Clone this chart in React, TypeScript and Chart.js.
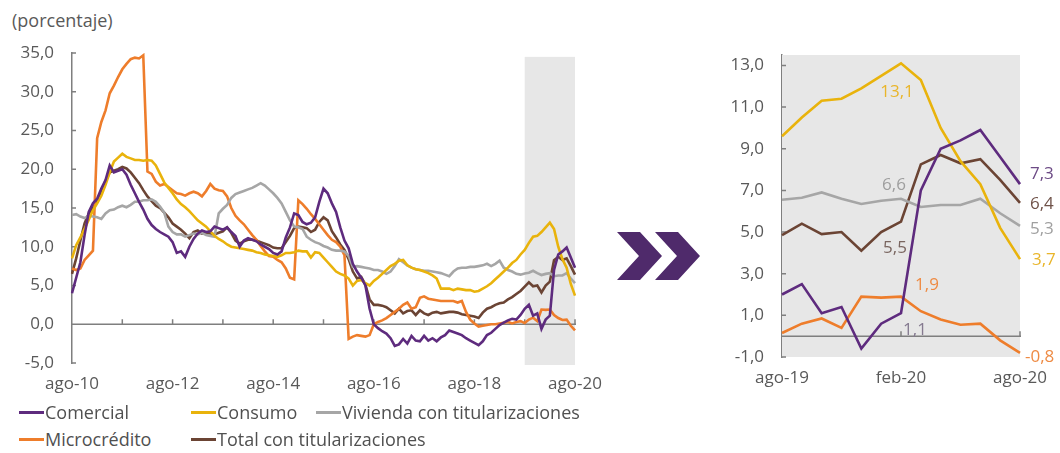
import React, { useEffect, useRef } from 'react';
import { Chart, registerables } from 'chart.js';

Chart.register(...registerables);

// ---------- labels ----------
const MONTH_ABBR = ['ene', 'feb', 'mar', 'abr', 'may', 'jun', 'jul', 'ago', 'sep', 'oct', 'nov', 'dic'];
const FIRST_MONTH = 7; // ago
const FIRST_YEAR = 10; // 2010
const N_MONTHS = 121; // ago-10 .. ago-20
const monthLabels: string[] = Array.from({ length: N_MONTHS }, (_, i) => {
  const k = FIRST_MONTH + i;
  return `${MONTH_ABBR[k % 12]}-${FIRST_YEAR + Math.floor(k / 12)}`;
});

// ---------- series (annual growth, %) ----------
const comercial = [
  4.0, 6.0, 8.0, 11.5, 14.5, 15.6, 16.2, 17.5, 18.6, 20.5,
  19.6, 19.8, 20.0, 19.3, 18.0, 16.9, 15.8, 14.8, 13.6, 12.8,
  12.3, 11.9, 11.6, 11.3, 10.6, 9.2, 9.4, 8.7, 10.0, 11.0,
  11.7, 12.1, 11.9, 12.0, 12.6, 12.4, 12.2, 12.5, 11.9, 11.4,
  10.0, 10.8, 11.1, 10.9, 10.7, 10.3, 10.0, 9.7, 9.2, 9.0,
  9.4, 11.2, 12.5, 14.3, 14.1, 13.2, 12.9, 13.1, 13.8, 15.8,
  17.5, 16.9, 15.6, 14.5, 12.5, 10.8, 9.8, 7.8, 6.8, 6.0,
  5.0, 2.0, 0.0, -0.5, -0.9, -1.2, -1.8, -2.8, -2.6, -1.9,
  -2.5, -1.5, -2.1, -2.2, -1.5, -2.1, -1.8, -2.2, -1.7, -1.4,
  -0.8, -1.0, -1.2, -1.4, -1.8, -2.1, -2.4, -2.7, -2.2, -1.4,
  -1.1, -0.6, -0.1, 0.2, 0.5, 0.7, 0.6, 1.2, 2.0, 2.5,
  1.1, 1.4, -0.6, 0.6, 1.1, 7.0, 9.0, 9.4, 9.9, 8.6, 7.3,
];
const consumo = [
  8.5, 10.2, 11.2, 12.3, 13.5, 14.7, 15.6, 16.6, 18.0, 19.6,
  21.0, 21.5, 22.0, 21.6, 21.4, 21.2, 21.2, 21.1, 21.2, 21.1,
  20.5, 19.4, 18.3, 17.6, 16.9, 16.1, 15.5, 15.1, 14.6, 14.0,
  13.4, 13.0, 12.6, 12.0, 11.4, 11.0, 10.7, 10.3, 10.0, 9.9,
  9.8, 9.7, 9.6, 9.5, 9.3, 9.2, 9.0, 8.9, 8.8, 8.7,
  8.9, 9.2, 9.2, 9.3, 9.5, 9.4, 9.4, 8.6, 9.3, 9.2,
  8.6, 8.0, 7.4, 6.8, 6.5, 6.3, 5.9, 5.0, 5.6, 5.7,
  5.3, 5.0, 5.6, 6.0, 6.5, 7.0, 7.5, 7.8, 8.2, 8.3,
  7.6, 7.3, 7.1, 7.0, 6.8, 6.6, 6.3, 5.9, 4.6, 4.6,
  4.6, 4.4, 4.6, 4.5, 4.4, 4.4, 4.2, 4.3, 4.6, 4.9,
  5.3, 5.8, 6.3, 6.8, 7.3, 7.9, 8.3, 9.0, 9.6, 10.5,
  11.3, 11.4, 11.9, 12.5, 13.1, 12.3, 10.0, 8.4, 7.3, 5.2, 3.7,
];
const vivienda = [
  14.1, 14.2, 13.9, 13.7, 14.0, 13.9, 13.8, 13.6, 14.3, 14.7,
  14.8, 15.1, 15.3, 15.1, 15.4, 15.8, 15.8, 16.0, 16.0, 16.1,
  15.8, 15.2, 14.4, 12.6, 11.9, 11.6, 11.6, 11.3, 11.5, 11.7,
  11.6, 11.8, 11.5, 11.4, 11.3, 14.3, 14.9, 15.4, 16.3, 16.8,
  17.0, 17.2, 17.4, 17.6, 17.9, 18.2, 17.9, 17.4, 16.9, 16.3,
  15.6, 14.5, 13.4, 12.6, 12.5, 12.3, 11.3, 10.9, 10.6, 10.4,
  10.1, 9.9, 9.6, 9.5, 9.5, 9.4, 8.8, 7.4, 7.5, 7.4,
  7.3, 7.2, 7.0, 7.0, 6.8, 6.5, 6.8, 7.5, 8.4, 8.0,
  7.6, 7.3, 7.1, 7.0, 6.9, 6.9, 6.8, 6.7, 6.6, 6.4,
  6.2, 6.8, 7.2, 7.3, 7.3, 7.4, 7.4, 7.5, 7.6, 7.8,
  7.5, 7.8, 8.2, 7.3, 7.0, 6.8, 6.5, 6.4, 6.55, 6.65,
  6.9, 6.6, 6.35, 6.5, 6.6, 6.2, 6.3, 6.3, 6.6, 5.9, 5.3,
];
const microcredito = [
  7.2, 7.0, 7.2, 8.3, 8.9, 9.5, 24.0, 26.1, 27.6, 29.8,
  30.8, 31.9, 32.9, 33.6, 34.2, 34.4, 34.3, 34.7, 19.7, 19.4,
  18.4, 17.9, 18.1, 17.7, 17.3, 16.9, 16.8, 16.6, 16.9, 17.1,
  16.9, 16.5, 17.2, 18.1, 17.5, 17.3, 17.2, 16.5, 15.0, 14.0,
  13.4, 12.9, 12.2, 11.5, 10.9, 10.1, 9.4, 8.8, 8.7, 8.3,
  8.0, 7.2, 6.0, 5.8, 16.0, 15.5, 14.9, 14.2, 13.6, 12.9,
  12.2, 11.5, 10.9, 10.6, 10.0, 8.9, -1.9, -1.6, -1.4, -1.5,
  -1.6, -1.4, 0.0, 0.3, 0.5, 0.8, 1.2, 1.6, 2.0, 2.5,
  2.8, 2.0, 2.2, 3.4, 3.6, 3.3, 3.2, 3.1, 3.0, 3.0,
  3.0, 3.0, 2.8, 3.0, 1.6, 0.6, 0.1, -0.3, -0.2, -0.1,
  0.0, 0.0, 0.1, 0.2, 0.3, 0.1, 0.3, 0.4, 0.15, 0.6,
  0.85, 0.4, 1.9, 1.85, 1.9, 1.2, 0.8, 0.55, 0.6, -0.2, -0.8,
];
const total = [
  6.5, 8.5, 10.8, 13.0, 14.3, 15.0, 15.8, 17.0, 18.5, 19.6,
  19.8, 20.0, 20.3, 20.1, 19.6, 18.9, 18.2, 17.3, 16.5, 15.9,
  15.3, 15.0, 14.4, 13.8, 13.0, 12.6, 12.2, 11.7, 11.1, 11.9,
  12.1, 11.7, 11.8, 11.7, 11.6, 11.8, 12.0, 12.5, 11.8, 10.8,
  10.4, 10.7, 10.9, 10.9, 10.8, 10.6, 10.4, 10.2, 9.9, 9.8,
  9.8, 10.6, 11.4, 12.4, 12.6, 12.5, 12.4, 11.9, 12.2, 13.2,
  13.8, 13.4, 12.0, 11.2, 10.3, 9.6, 8.4, 6.8, 5.9, 6.1,
  5.1, 3.2, 2.5, 2.5, 2.4, 2.2, 1.8, 1.4, 2.0, 1.4,
  1.7, 1.8, 1.2, 1.8, 1.4, 1.2, 1.5, 1.6, 1.4, 1.5,
  1.6, 1.6, 1.5, 1.3, 1.2, 1.1, 1.0, 0.8, 1.5, 2.0,
  2.2, 2.5, 2.7, 2.8, 3.2, 3.5, 3.9, 4.3, 4.85, 5.4,
  4.9, 5.0, 4.1, 5.0, 5.5, 8.25, 8.7, 8.3, 8.5, 7.5, 6.4,
];

const SERIES_NAMES = ['Comercial', 'Consumo', 'Vivienda con titularizaciones', 'Microcrédito', 'Total con titularizaciones'];
const SERIES_VALUES = [comercial, consumo, vivienda, microcredito, total];

// ticks
const LEFT_Y_TICKS = [-5, 0, 5, 10, 15, 20, 25, 30, 35];
const RIGHT_Y_TICKS = [-1, 1, 3, 5, 7, 9, 11, 13];
const LEFT_LABEL_STEP = 24; // every two years
const LEFT_TICK_STEP = 12; // tick marks every year
const ZOOM_START = 108; // ago-19
const RIGHT_LABEL_IDX = [0, 6, 12]; // ago-19, feb-20, ago-20

// ---------- styling ----------
const FONT = "'Open Sans', 'Noto Sans', sans-serif";
const TEXT = '#595959';
const AXIS = '#7F7F7F';
const SHADE = '#E7E7E7';
const SERIES_COLORS = ['#5E2B7E', '#E9B30C', '#A6A6A6', '#EE7D2B', '#6B4434'];

// annotation placement in the zoom panel (index within the zoom window)
const NOTES = [
  { s: 1, i: 6, dx: -4, dy: 29, align: 'center', color: '#E9B52A' },
  { s: 2, i: 6, dx: -7, dy: -14, align: 'center', color: '#9E9E9E' },
  { s: 4, i: 6, dx: -6, dy: 27, align: 'center', color: '#7A6660' },
  { s: 3, i: 6, dx: 26, dy: -11, align: 'center', color: '#EE8B44' },
  { s: 0, i: 6, dx: 14, dy: 17, align: 'center', color: '#857A90' },
  { s: 0, i: 12, dx: 10, dy: -10, align: 'left', color: '#6C4A85' },
  { s: 4, i: 12, dx: 10, dy: 1, align: 'left', color: '#6F5249' },
  { s: 2, i: 12, dx: 10, dy: 3, align: 'left', color: '#A0A0A0' },
  { s: 1, i: 12, dx: 12, dy: 1, align: 'left', color: '#E9B52A' },
  { s: 3, i: 12, dx: 5, dy: 4, align: 'left', color: '#EE8B44' },
];

const fmt = (v: number) => v.toFixed(1).replace('.', ',');

Chart.defaults.font.family = FONT;

type DecorCfg = {
  shadeFrom: number;
  shadeTop: number;
  shadeBottomExtra: number;
  xTickIdx: number[];
  yTicks: number[];
  notes: boolean;
};

function makeDecor(cfg: DecorCfg) {
  return {
    id: 'decor',
    beforeDatasetsDraw(chart: any) {
      const { ctx, chartArea: a, scales } = chart;
      const x = scales.x;
      const y = scales.y;
      ctx.save();
      const sx = x.getPixelForValue(cfg.shadeFrom);
      const top = y.getPixelForValue(cfg.shadeTop);
      ctx.fillStyle = SHADE;
      ctx.fillRect(sx, top, a.right - sx, a.bottom + cfg.shadeBottomExtra - top);

      ctx.strokeStyle = AXIS;
      ctx.lineWidth = 1.5;
      const y0 = y.getPixelForValue(0);
      ctx.beginPath();
      ctx.moveTo(a.left, y0);
      ctx.lineTo(a.right + 1, y0);
      for (const i of cfg.xTickIdx) {
        const px = x.getPixelForValue(i);
        ctx.moveTo(px, y0);
        ctx.lineTo(px, y0 - 5);
      }
      for (const v of cfg.yTicks) {
        const py = y.getPixelForValue(v);
        ctx.moveTo(a.left, py);
        ctx.lineTo(a.left + 4, py);
      }
      ctx.stroke();
      ctx.restore();
    },
    afterDatasetsDraw(chart: any) {
      if (!cfg.notes) return;
      const { ctx } = chart;
      ctx.save();
      ctx.font = `17px ${FONT}`;
      ctx.textBaseline = 'middle';
      for (const n of NOTES) {
        const pt = chart.getDatasetMeta(n.s).data[n.i];
        ctx.fillStyle = n.color;
        ctx.textAlign = n.align;
        ctx.fillText(fmt(SERIES_VALUES[n.s][ZOOM_START + n.i]), pt.x + n.dx, pt.y + n.dy);
      }
      ctx.restore();
    },
  };
}

function buildConfig(opts: {
  labels: string[];
  data: number[][];
  yMin: number;
  yMax: number;
  yTicks: number[];
  yWidth: number;
  xHeight: number;
  padTop: number;
  padRight: number;
  xLabelIdx: (i: number) => boolean;
  decor: DecorCfg;
}): any {
  return {
    type: 'line',
    data: {
      labels: opts.labels,
      datasets: opts.data.map((d, k) => ({
        label: SERIES_NAMES[k],
        data: d,
        borderColor: SERIES_COLORS[k],
        backgroundColor: SERIES_COLORS[k],
        borderWidth: 2.6,
        pointRadius: 0,
        tension: 0,
        fill: false,
      })),
    },
    options: {
      responsive: false,
      maintainAspectRatio: false,
      animation: false,
      devicePixelRatio: 1,
      layout: { padding: { top: opts.padTop, right: opts.padRight, left: 0, bottom: 0 } },
      plugins: { legend: { display: false }, tooltip: { enabled: false } },
      scales: {
        x: {
          type: 'category',
          offset: false,
          grid: { display: false, drawTicks: false },
          border: { display: false },
          afterFit: (s: any) => { s.height = opts.xHeight; },
          ticks: {
            autoSkip: false,
            maxRotation: 0,
            minRotation: 0,
            padding: 11,
            color: TEXT,
            font: { size: 17, family: FONT },
            callback: (_v: any, i: number) => (opts.xLabelIdx(i) ? opts.labels[i] : ''),
          },
        },
        y: {
          type: 'linear',
          min: opts.yMin,
          max: opts.yMax,
          grid: { display: false, drawTicks: false },
          border: { display: true, color: AXIS, width: 1.5 },
          afterFit: (s: any) => { s.width = opts.yWidth; },
          afterBuildTicks: (s: any) => { s.ticks = opts.yTicks.map((v) => ({ value: v })); },
          ticks: {
            padding: 18,
            color: TEXT,
            font: { size: 17, family: FONT },
            callback: (v: any) => fmt(Number(v)),
          },
        },
      },
    },
    plugins: [makeDecor(opts.decor)],
  };
}

const LEGEND_ROWS = [[0, 1, 2], [3, 4]];
const LEGEND_COL_X = [19, 191, 316];
const LEGEND_ROW_Y = [412, 439];

export default function App() {
  const leftRef = useRef<HTMLCanvasElement>(null);
  const rightRef = useRef<HTMLCanvasElement>(null);

  useEffect(() => {
    const left = new Chart(
      leftRef.current as HTMLCanvasElement,
      buildConfig({
        labels: monthLabels,
        data: SERIES_VALUES,
        yMin: -5,
        yMax: 35,
        yTicks: LEFT_Y_TICKS,
        yWidth: 72,
        xHeight: 37,
        padTop: 53,
        padRight: 45,
        xLabelIdx: (i) => i % LEFT_LABEL_STEP === 0,
        decor: {
          shadeFrom: ZOOM_START,
          shadeTop: 34.5,
          shadeBottomExtra: 2,
          xTickIdx: monthLabels.map((_, i) => i).filter((i) => i > 0 && i % LEFT_TICK_STEP === 0),
          yTicks: LEFT_Y_TICKS,
          notes: false,
        },
      })
    );
    const zoomLabels = monthLabels.slice(ZOOM_START);
    const right = new Chart(
      rightRef.current as HTMLCanvasElement,
      buildConfig({
        labels: zoomLabels,
        data: SERIES_VALUES.map((s) => s.slice(ZOOM_START)),
        yMin: -1,
        yMax: 13.5,
        yTicks: RIGHT_Y_TICKS,
        yWidth: 82,
        xHeight: 43,
        padTop: 55,
        padRight: 40,
        xLabelIdx: (i) => RIGHT_LABEL_IDX.includes(i),
        decor: {
          shadeFrom: 0,
          shadeTop: 13.5,
          shadeBottomExtra: 0,
          xTickIdx: RIGHT_LABEL_IDX.filter((i) => i > 0),
          yTicks: RIGHT_Y_TICKS,
          notes: true,
        },
      })
    );
    return () => {
      left.destroy();
      right.destroy();
    };
  }, []);

  return (
    <div
      style={{
        position: 'absolute',
        left: 0,
        top: 0,
        width: 1060,
        height: 453,
        background: '#ffffff',
        overflow: 'hidden',
        fontFamily: FONT,
      }}
    >
      <div style={{ position: 'absolute', left: 12, top: 8, fontSize: 18, lineHeight: '24px', color: TEXT }}>
        (porcentaje)
      </div>
      <canvas
        ref={leftRef}
        width={620}
        height={400}
        style={{ position: 'absolute', left: 0, top: 0, width: 620, height: 400 }}
      />
      <svg
        width={90}
        height={60}
        viewBox="0 0 90 60"
        style={{ position: 'absolute', left: 614, top: 226 }}
      >
        <polygon points="3,6 26,6 48,30 26,54 3,54 25,30" fill="#4F2A6B" />
        <polygon points="41,6 64,6 86,30 64,54 41,54 63,30" fill="#4F2A6B" />
      </svg>
      <canvas
        ref={rightRef}
        width={360}
        height={400}
        style={{ position: 'absolute', left: 700, top: 0, width: 360, height: 400 }}
      />
      {LEGEND_ROWS.map((row, r) =>
        row.map((k, c) => (
          <div
            key={k}
            style={{
              position: 'absolute',
              left: LEGEND_COL_X[c],
              top: LEGEND_ROW_Y[r] - 13,
              height: 26,
              display: 'flex',
              alignItems: 'center',
              whiteSpace: 'nowrap',
              fontSize: 18,
              color: '#505050',
            }}
          >
            <span style={{ display: 'inline-block', width: 25, height: 3, background: SERIES_COLORS[k], marginRight: 1 }} />
            <span>{SERIES_NAMES[k]}</span>
          </div>
        ))
      )}
    </div>
  );
}
